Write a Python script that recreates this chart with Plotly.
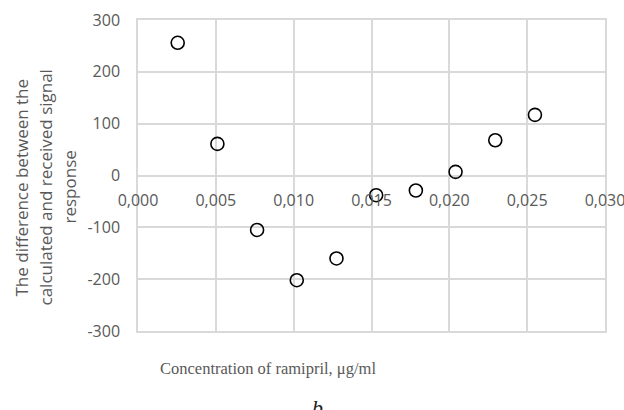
import plotly.graph_objects as go

# Data
concentration = [0.00255, 0.0051, 0.00765, 0.0102, 0.01275, 0.0153, 0.01785, 0.0204, 0.02295, 0.0255]
difference = [256, 61, -105, -202, -160, -38, -29, 7, 68, 117]

x_tickvals = [0.000, 0.005, 0.010, 0.015, 0.020, 0.025, 0.030]
x_ticktext = ["0,000", "0,005", "0,010", "0,015", "0,020", "0,025", "0,030"]
y_tickvals = [-300, -200, -100, 0, 100, 200, 300]
y_ticktext = ["-300", "-200", "-100", "0", "100", "200", "300"]

y_title_lines = ["The difference between the", "calculated and received signal", "response"]
x_title = "Concentration of ramipril, μg/ml"
panel_label = "b"

GRID = "#d9d9d9"
TXT = "#595959"
SANS = "Open Sans, sans-serif"

fig = go.Figure()
fig.add_trace(go.Scatter(
    x=concentration, y=difference, mode="markers",
    marker=dict(symbol="circle-open", size=13, color="#000000", line=dict(width=1.6, color="#000000")),
    showlegend=False, hoverinfo="x+y",
))
# invisible helper axis to draw the top/bottom frame lines
fig.add_trace(go.Scatter(x=concentration, y=difference, xaxis="x2", mode="markers",
                         marker=dict(opacity=0), showlegend=False, hoverinfo="skip"))

fig.update_layout(
    width=624, height=410,
    margin=dict(l=138, r=19, t=20, b=79),
    paper_bgcolor="white", plot_bgcolor="white",
    font=dict(family=SANS, size=16, color=TXT),
    xaxis=dict(
        range=[0, 0.030], tickvals=x_tickvals, ticktext=x_ticktext,
        showgrid=True, gridcolor=GRID, gridwidth=1.5,
        zeroline=False, showline=False, ticks="",
        anchor="free", position=0.5, ticklabelstandoff=13,
        ticklabeloverflow="allow", automargin=False,
        tickfont=dict(family=SANS, size=16, color=TXT),
    ),
    xaxis2=dict(
        range=[0, 0.030], overlaying="x", anchor="y", automargin=False,
        showgrid=False, zeroline=False, showticklabels=False, ticks="",
        showline=True, mirror=True, linecolor=GRID, linewidth=1.5,
    ),
    yaxis=dict(
        range=[-300, 300], tickvals=y_tickvals, ticktext=y_ticktext,
        showgrid=True, gridcolor=GRID, gridwidth=1.5, automargin=False,
        zeroline=False, showline=True, mirror=True, linecolor=GRID, linewidth=1.5,
        ticks="", ticklabelstandoff=13,
        tickfont=dict(family=SANS, size=16, color=TXT),
    ),
)

# Y-axis title (three rotated lines)
for line, px in zip(y_title_lines, [21, 45, 69]):
    fig.add_annotation(
        text=line, textangle=-90, showarrow=False,
        xref="paper", yref="paper", x=0, y=0.5,
        xanchor="center", yanchor="middle",
        xshift=px - 138, yshift=-12,
        font=dict(family=SANS, size=17, color=TXT),
    )

# X-axis title
fig.add_annotation(
    text=x_title, showarrow=False,
    xref="paper", yref="paper", x=0, y=0,
    xanchor="left", yanchor="middle",
    xshift=158 - 138, yshift=-(368 - 331),
    font=dict(family="Liberation Serif, serif", size=16.5, color=TXT),
)

# Panel label
fig.add_annotation(
    text="<i>" + panel_label + "</i>", showarrow=False,
    xref="paper", yref="paper", x=0, y=0,
    xanchor="left", yanchor="top",
    xshift=310 - 138, yshift=-(393 - 331),
    font=dict(family="Liberation Serif, serif", size=22, color="#222222"),
)

fig.write_html("out.html")
